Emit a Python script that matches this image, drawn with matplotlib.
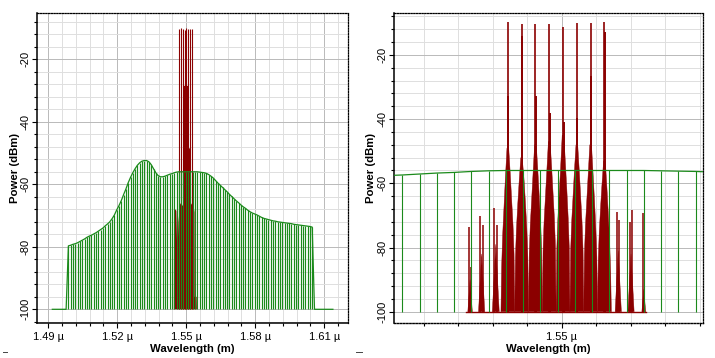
import matplotlib
matplotlib.use('Agg')
import matplotlib.pyplot as plt
from matplotlib.ticker import FixedLocator, MultipleLocator
from matplotlib.lines import Line2D
import numpy as np

plt.rcParams['font.family'] = ['Liberation Sans', 'DejaVu Sans']

# ---------------- data ----------------
# broadband (green) spectrum, one sample per nm
green_wl_nm = np.arange(1491.76, 1614.0, 1.0)
green_db = ([-100.0] * 7 + [
    -79.7, -79.5, -79.2, -79.0, -78.7, -78.3, -77.9, -77.5, -77.0, -76.6,
    -76.3, -75.9, -75.5, -75.0, -74.5, -74.0, -73.3, -72.7, -72.0, -71.0,
    -69.8, -68.2, -66.8, -65.2, -63.3, -61.5, -59.5, -57.8, -56.3, -55.0,
    -53.9, -53.1, -52.6, -52.4, -52.4, -52.8, -53.7, -55.0, -56.3, -57.2,
    -57.6, -57.6, -57.4, -57.1, -56.8, -56.6, -56.3, -56.1, -56.0,
    -56.0, -56.0, -56.0, -56.0, -56.0, -56.0, -56.0, -56.0,
    -56.1, -56.2, -56.3, -56.5, -56.9, -57.4, -58.0, -58.8, -59.6, -60.3,
    -61.0, -61.7, -62.4, -63.2, -63.9, -64.6, -65.3, -65.9, -66.6, -67.2,
    -67.7, -68.3, -68.8, -69.2, -69.5, -69.8, -70.2, -70.6, -70.9, -71.1,
    -71.3, -71.5, -71.7, -71.8, -72.0, -72.1, -72.2, -72.3, -72.4, -72.5,
    -72.6, -72.8, -72.9, -73.0, -73.1, -73.2, -73.3, -73.4, -73.5, -73.7,
] + [-100.0] * 9)

# WDM channels (red)
ch_wl_nm = [1546.88, 1547.68, 1548.48, 1549.28, 1550.08, 1550.88, 1551.68, 1552.48]
ch_peak_db = [-9.7, -10.5, -10.5, -10.4, -11.2, -10.0, -10.0, -9.7]
ch_shoulder_db = [-32.8, -14.1, -32.8, -38.2, -40.8, -39.7, -26.6, -12.8]
lobe_offset_nm = [-0.40, -0.36, -0.30, -0.22, -0.14, -0.05, 0.05, 0.14, 0.22, 0.30, 0.36, 0.40]
lobe_db = [
    [-100, -86, -76, -67, -58, -49, -49, -57, -65, -73, -82, -100],
    [-100, -83, -74, -66, -59, -52, -53, -59, -66, -74, -83, -100],
    [-100, -82, -73, -65, -57, -48, -48, -56, -64, -72, -81, -100],
    [-100, -81, -72, -64, -56, -47, -47, -55, -63, -71, -80, -100],
    [-100, -80, -71, -63, -55, -45, -45, -54, -62, -71, -80, -100],
    [-100, -81, -72, -64, -56, -48, -48, -56, -64, -72, -81, -100],
    [-100, -82, -73, -65, -57, -48, -48, -57, -65, -74, -83, -100],
    [-100, -84, -75, -67, -60, -53, -53, -61, -69, -78, -88, -100],
]
# four-wave-mixing products (red, right panel)
fwm_spike_wl = [1544.64, 1544.74, 1545.28, 1545.45, 1546.09, 1546.27,
                1553.22, 1553.34, 1553.94, 1554.09, 1554.73]
fwm_spike_db = [-73.5, -86.0, -70.2, -73.0, -67.8, -73.0,
                -68.8, -71.4, -72.0, -68.3, -69.3]
fwm_lobe_wl = [1544.69, 1545.36, 1546.18, 1553.28, 1554.02, 1554.76]
fwm_lobe_db = [-90, -82, -79, -81, -82, -93]
fwm_lobe_half_nm = [0.13, 0.18, 0.2, 0.18, 0.18, 0.11]
red_base_wl = [1544.45, 1554.90]

# left panel red (coarse view)
left_spike_db = [-10.2, -10.0, -10.3, -10.6, -10.0, -10.2, -10.3, -10.4]
left_blob_wl = [1544.6, 1544.7, 1545.7, 1546.0, 1546.3, 1546.6, 1547.4, 1548.2, 1548.9,
                1548.9, 1550.9, 1550.9, 1551.9, 1552.0, 1553.3, 1553.6, 1553.7, 1554.5, 1554.6]
left_blob_db = [-100, -67.5, -68.5, -79, -80, -72, -66, -67, -66,
                -28.5, -28.5, -48.5, -48.5, -66, -67.5, -69, -96, -96, -100]

# ---------------- styling ----------------
RED = '#8b0000'
GREEN = '#1b8a1b'
GRID_MIN = '#dedede'
GRID_MAJ = '#b9b9b9'
W, H = 715, 358

fig = plt.figure(figsize=(W / 100, H / 100), dpi=100)
ax1 = fig.add_axes([37 / W, 1 - 322.7 / H, (347.7 - 37) / W, (322.7 - 12.7) / H])
ax2 = fig.add_axes([394 / W, 1 - 322.7 / H, (703.3 - 394) / W, (322.7 - 12.7) / H])


def style(ax, xmaj, xmin, xlabels, dotted_bottom):
    ax.set_facecolor('white')
    ax.yaxis.set_major_locator(FixedLocator([-100, -80, -60, -40, -20]))
    ax.yaxis.set_minor_locator(MultipleLocator(4))
    ax.xaxis.set_major_locator(FixedLocator(xmaj))
    ax.xaxis.set_minor_locator(FixedLocator(xmin))
    ax.set_xticklabels(xlabels)
    ax.set_yticklabels(['-100', '-80', '-60', '-40', '-20'])
    ax.tick_params(axis='both', which='major', direction='out', length=3.5, width=0.8,
                   labelsize=8, colors='black')
    ax.tick_params(axis='both', which='minor', direction='out', length=2.0, width=0.8)
    ax.tick_params(axis='y', which='major', pad=1.5, labelrotation=90)
    ax.tick_params(axis='x', which='major', pad=3)
    for t in ax.get_yticklabels():
        t.set_va('center')
    ax.grid(which='minor', color=GRID_MIN, lw=0.7, zorder=0)
    ax.grid(which='major', color=GRID_MAJ, lw=0.7, zorder=0)
    ax.set_axisbelow(True)
    for s in ['top', 'right']:
        ax.spines[s].set_linestyle((0, (1, 1.2)))
        ax.spines[s].set_linewidth(0.9)
    ax.spines['left'].set_linewidth(1.1)
    if dotted_bottom:
        ax.spines['bottom'].set_linestyle((0, (1, 1.2)))
        ax.spines['bottom'].set_linewidth(1.0)
    else:
        ax.spines['bottom'].set_linewidth(1.1)


# ---- left panel ----
ax1.fill(left_blob_wl, left_blob_db, color=RED, lw=0, zorder=2)
ax1.vlines(ch_wl_nm, -100, left_spike_db, color=RED, lw=0.8, zorder=2)
ax1.vlines(green_wl_nm, -100, green_db, color=GREEN, lw=0.85, zorder=3)
ax1.plot(green_wl_nm, green_db, color=GREEN, lw=0.9, zorder=3)
ax1.set_xlim(1485.1, 1620.2)
ax1.set_ylim(-104.29, -5.09)
style(ax1, [1490, 1520, 1550, 1580, 1610], list(range(1490, 1620, 6)),
      ['1.49 µ', '1.52 µ', '1.55 µ', '1.58 µ', '1.61 µ'], False)

# ---- right panel ----
ax2.plot(red_base_wl, [-100, -100], color=RED, lw=1.0, zorder=2)
for i, c in enumerate(ch_wl_nm):
    ax2.fill([c + o for o in lobe_offset_nm], lobe_db[i], color=RED, lw=0.3, zorder=2)
ax2.vlines([c + 0.03 for c in ch_wl_nm], -100, ch_shoulder_db, color=RED, lw=1.4, zorder=2)
ax2.vlines(ch_wl_nm, -100, ch_peak_db, color=RED, lw=1.2, zorder=2)
for c, top, hw in zip(fwm_lobe_wl, fwm_lobe_db, fwm_lobe_half_nm):
    ax2.fill([c - hw, c, c + hw], [-100, top, -100], color=RED, lw=0.3, zorder=2)
ax2.vlines(fwm_spike_wl, -100, fwm_spike_db, color=RED, lw=1.1, zorder=2)
ax2.vlines(green_wl_nm, -100, green_db, color=GREEN, lw=0.8, zorder=3)
ax2.plot(green_wl_nm, green_db, color=GREEN, lw=0.9, zorder=3)
ax2.set_xlim(1540.28, 1558.21)
ax2.set_ylim(-103.43, -6.83)
style(ax2, [1550], list(range(1542, 1559, 2)), ['1.55 µ'], True)

# axis titles
for cx in [192.5, 548.5]:
    fig.text(cx / W, 1 - 349.5 / H, 'Wavelength (m)', ha='center', va='center',
             fontsize=8.2, fontweight='bold')
for cx in [15.5, 370.5]:
    fig.text(cx / W, 1 - 168 / H, 'Power (dBm)', ha='center', va='center',
             rotation=90, fontsize=8.2, fontweight='bold')

# small corner marks
for x0, x1 in [(3, 7), (356, 359), (359, 362)]:
    fig.add_artist(Line2D([x0 / W, x1 / W], [1 - 352 / H, 1 - 352 / H], color='#444444', lw=0.7))

fig.savefig('out.png', dpi=100)
